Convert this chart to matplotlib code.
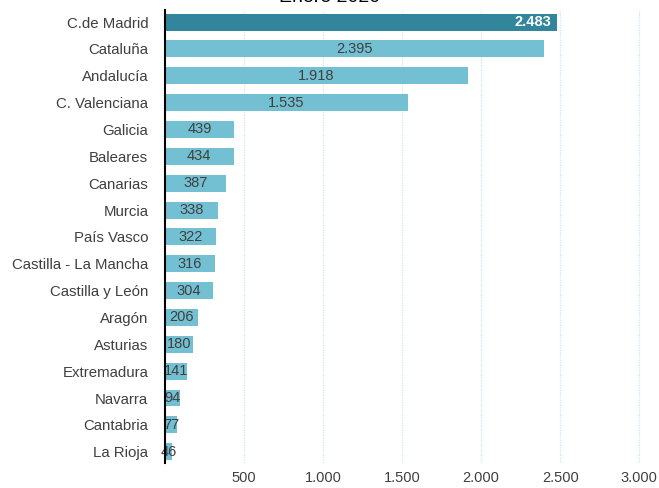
import matplotlib
matplotlib.use("Agg")
import matplotlib.pyplot as plt
import matplotlib.ticker as ticker

regions = ["C.de Madrid", "Cataluña", "Andalucía", "C. Valenciana", "Galicia",
           "Baleares", "Canarias", "Murcia", "País Vasco", "Castilla - La Mancha",
           "Castilla y León", "Aragón", "Asturias", "Extremadura", "Navarra",
           "Cantabria", "La Rioja"]
values = [2483, 2395, 1918, 1535, 439, 434, 387, 338, 322, 316, 304, 206, 180, 141, 94, 77, 46]
xticks = [500, 1000, 1500, 2000, 2500, 3000]

plt.rcParams['font.family'] = ['Liberation Sans', 'DejaVu Sans']

W, H = 659, 488
fig = plt.figure(figsize=(W / 100, H / 100), dpi=100)
ax = fig.add_axes([165 / W, 1 - 463 / H, (655 - 165) / W, (463 - 10) / H])

ypos = list(range(len(regions)))
colors = ['#31869b'] + ['#73c0d2'] * (len(regions) - 1)
ax.barh(ypos, values, height=0.63, color=colors, zorder=2)

for i, v in enumerate(values):
    lab = f"{v:,}".replace(",", ".")
    if i == 0:
        ax.text(v - 40, i, lab, ha='right', va='center', color='white',
                fontsize=10.5, fontweight='bold', zorder=3)
    else:
        ax.text(v / 2, i, lab, ha='center', va='center', color='#404040',
                fontsize=10.5, zorder=3)

ax.set_xlim(0, 3100)
ax.set_ylim(16.42, -0.45)
ax.set_xticks(xticks)
ax.xaxis.set_major_formatter(ticker.FuncFormatter(lambda x, p: f"{int(x):,}".replace(",", ".")))
ax.set_yticks(ypos)
ax.set_yticklabels(regions)
ax.tick_params(axis='both', length=0, colors='#404040')
ax.tick_params(axis='y', pad=12, labelsize=10.8)
ax.tick_params(axis='x', pad=6, labelsize=10.5)
ax.grid(axis='x', color='#cfe6ef', linestyle=(0, (1, 1)), linewidth=0.9, zorder=0)
for s in ['top', 'right', 'bottom']:
    ax.spines[s].set_visible(False)
ax.spines['left'].set_color('black')
ax.spines['left'].set_linewidth(1.5)
ax.spines['left'].set_zorder(4)

fig.text(330 / W, 1 + 2 / H, "Enero 2020", ha='center', va='center', fontsize=14, color='black')

fig.savefig("out.png", dpi=100)
